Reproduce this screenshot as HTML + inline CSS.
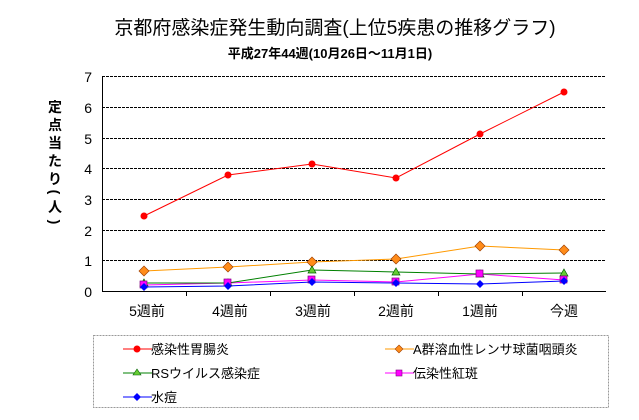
<!DOCTYPE html>
<html><head><meta charset="utf-8"><style>
body{margin:0;background:#fff;width:639px;height:415px;overflow:hidden}
svg text{font-family:"Liberation Sans","Noto Sans CJK JP",sans-serif}
</style></head><body>
<svg width="639" height="415" xmlns="http://www.w3.org/2000/svg">
<text x="335" y="34" font-size="19" text-anchor="middle" fill="#000">京都府感染症発生動向調査(上位5疾患の推移グラフ)</text>
<text x="330" y="58" font-size="13" font-weight="bold" text-anchor="middle" fill="#000">平成27年44週(10月26日～11月1日)</text>
<g font-size="14" font-weight="bold" text-anchor="middle">
<text x="55" y="112">定</text><text x="55" y="130">点</text><text x="55" y="148">当</text><text x="55" y="166">た</text><text x="55" y="184">り</text>
<text x="55" y="197" transform="rotate(90 55 192)">(</text><text x="55" y="212">人</text><text x="55" y="227" transform="rotate(90 55 222)">)</text>
</g>
<g stroke="#000" stroke-dasharray="3,1" stroke-width="1">
<line x1="102" x2="606" y1="76.5" y2="76.5"/><line x1="102" x2="606" y1="107.5" y2="107.5"/><line x1="102" x2="606" y1="138.5" y2="138.5"/><line x1="102" x2="606" y1="168.5" y2="168.5"/><line x1="102" x2="606" y1="199.5" y2="199.5"/><line x1="102" x2="606" y1="230.5" y2="230.5"/><line x1="102" x2="606" y1="260.5" y2="260.5"/>
</g>
<g stroke="#000" stroke-width="1">
<line x1="102.5" x2="102.5" y1="76" y2="291"/><line x1="102" x2="606" y1="291.5" y2="291.5"/>
<line x1="186.5" x2="186.5" y1="291" y2="296"/><line x1="270.5" x2="270.5" y1="291" y2="296"/><line x1="354.5" x2="354.5" y1="291" y2="296"/><line x1="438.5" x2="438.5" y1="291" y2="296"/><line x1="522.5" x2="522.5" y1="291" y2="296"/>
</g>
<g font-size="14" text-anchor="end">
<text x="92" y="82">7</text><text x="92" y="113">6</text><text x="92" y="144">5</text><text x="92" y="174">4</text><text x="92" y="205">3</text><text x="92" y="236">2</text><text x="92" y="266">1</text><text x="92" y="297">0</text>
</g>
<g font-size="14" text-anchor="middle">
<text x="147" y="316">5週前</text><text x="230" y="316">4週前</text><text x="313" y="316">3週前</text><text x="396" y="316">2週前</text><text x="480" y="316">1週前</text><text x="564" y="316">今週</text>
</g>
<polyline fill="none" stroke="#0000ff" points="144,287 228,286 312,282 396,283 480,284 564,281"/>
<polyline fill="none" stroke="#ff00ff" points="144,285 228,283 312,280 396,282 480,274 564,280"/>
<polyline fill="none" stroke="#008000" points="144,283 228,283 312,270 396,272 480,274 564,273"/>
<polyline fill="none" stroke="#ff9900" points="144,271 228,267 312,262 396,259 480,246 564,250"/>
<polyline fill="none" stroke="#ff0000" points="144,216 228,175 312,164 396,178 480,134 564,92"/>
<g fill="#ff0000"><circle cx="144" cy="216" r="3.5"/><circle cx="228" cy="175" r="3.5"/><circle cx="312" cy="164" r="3.5"/><circle cx="396" cy="178" r="3.5"/><circle cx="480" cy="134" r="3.5"/><circle cx="564" cy="92" r="3.5"/></g>
<g fill="#ff8c1a" stroke="#a04000" stroke-width="0.7">
<path d="M144,266l5,5l-5,5l-5,-5z"/><path d="M228,262l5,5l-5,5l-5,-5z"/><path d="M312,257l5,5l-5,5l-5,-5z"/><path d="M396,254l5,5l-5,5l-5,-5z"/><path d="M480,241l5,5l-5,5l-5,-5z"/><path d="M564,245l5,5l-5,5l-5,-5z"/></g>
<g fill="#66cc33" stroke="#006000" stroke-width="0.7">
<path d="M144,279l4,7h-8z"/><path d="M228,279l4,7h-8z"/><path d="M312,266l4,7h-8z"/><path d="M396,268l4,7h-8z"/><path d="M480,270l4,7h-8z"/><path d="M564,269l4,7h-8z"/></g>
<g fill="#ff00ff" stroke="#800080" stroke-width="0.7">
<rect x="140" y="281" width="7" height="7"/><rect x="224" y="279" width="7" height="7"/><rect x="308" y="276" width="7" height="7"/><rect x="392" y="278" width="7" height="7"/><rect x="476" y="270" width="7" height="7"/><rect x="560" y="276" width="7" height="7"/></g>
<g fill="#0000ff">
<path d="M144,283l4,4l-4,4l-4,-4z"/><path d="M228,282l4,4l-4,4l-4,-4z"/><path d="M312,278l4,4l-4,4l-4,-4z"/><path d="M396,279l4,4l-4,4l-4,-4z"/><path d="M480,280l4,4l-4,4l-4,-4z"/><path d="M564,277l4,4l-4,4l-4,-4z"/></g>
<rect x="93.5" y="335.5" width="515" height="72" fill="none" stroke="#999" stroke-dasharray="2,1"/>
<g font-size="13">
<line x1="123" x2="152" y1="349" y2="349" stroke="#ff0000"/><circle cx="137" cy="349" r="3.5" fill="#ff0000"/><text x="151" y="354">感染性胃腸炎</text>
<line x1="385" x2="414" y1="349" y2="349" stroke="#ff9900"/><path d="M399,345l4,4l-4,4l-4,-4z" fill="#ff8c1a" stroke="#a04000" stroke-width="0.6"/><text x="413" y="354">A群溶血性レンサ球菌咽頭炎</text>
<line x1="123" x2="152" y1="373" y2="373" stroke="#008000"/><path d="M137,369l4,6h-8z" fill="#66cc33" stroke="#006000" stroke-width="0.6"/><text x="151" y="378">RSウイルス感染症</text>
<line x1="385" x2="414" y1="373" y2="373" stroke="#ff00ff"/><rect x="396" y="370" width="6" height="6" fill="#ff00ff" stroke="#800080" stroke-width="0.6"/><text x="413" y="378">伝染性紅斑</text>
<line x1="123" x2="152" y1="397" y2="397" stroke="#0000ff"/><path d="M137,393l4,4l-4,4l-4,-4z" fill="#0000ff"/><text x="151" y="402">水痘</text>
</g>
</svg>
</body></html>
